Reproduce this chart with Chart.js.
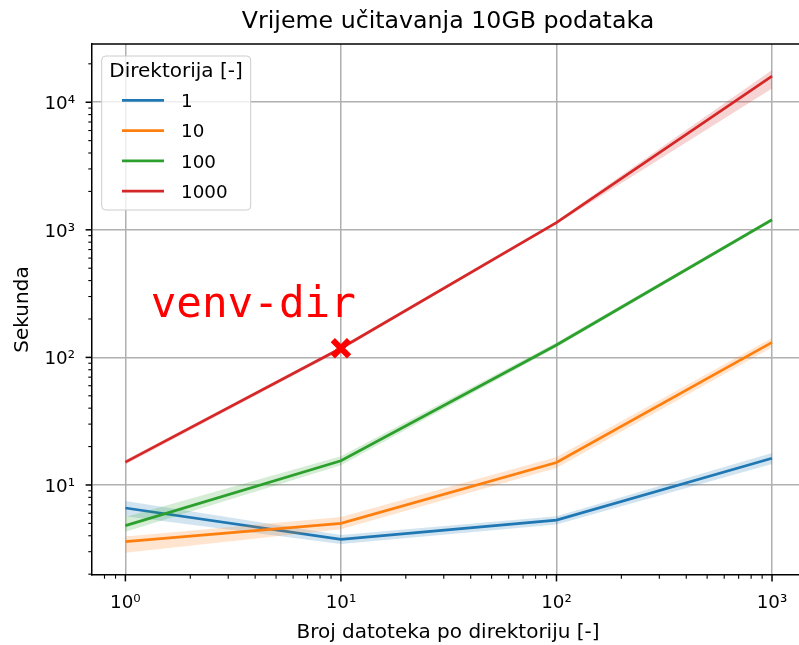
<!DOCTYPE html>
<html>
<head>
<meta charset="utf-8">
<script src="https://cdn.jsdelivr.net/npm/chart.js@4/dist/chart.umd.min.js"></script>
<style>
  html, body { margin: 0; padding: 0; background: #fff; }
  canvas { display: block; }
</style>
</head>
<body>
<canvas id="loadChart" width="799" height="645"></canvas>
<script>
// x: files per directory, one series per directory count
const fileCounts = [1, 10, 100, 1000];
const dirLabels = ['1', '10', '100', '1000'];

const dir1Mean = [6.6, 3.75, 5.3, 16.2];
const dir1Low  = [5.7, 3.45, 4.9, 14.6];
const dir1High = [7.5, 4.05, 5.7, 17.8];

const dir10Mean = [3.6, 5.0, 15.0, 131];
const dir10Low  = [2.95, 4.5, 13.6, 120];
const dir10High = [3.95, 5.6, 16.6, 142];

const dir100Mean = [4.8, 15.5, 125, 1200];
const dir100Low  = [4.3, 14.3, 120, 1160];
const dir100High = [5.6, 16.8, 131, 1240];

const dir1000Mean = [15.1, 118, 1140, 16000];
const dir1000Low  = [14.5, 114, 1110, 12800];
const dir1000High = [15.7, 122, 1180, 17900];

// highlighted point + its note
const markerX = [10];
const markerY = [118];
const noteText = 'venv-dir';
const noteX = 1.31;
const noteY = 208;

// axis limits (matplotlib-style log margins)
const xMin = 0.706, xMax = 1334;
const yMin = 1.97, yMax = 28600;

const chartTitle = 'Vrijeme učitavanja 10GB podataka';
const xTitle = 'Broj datoteka po direktoriju [-]';
const yTitle = 'Sekunda';
const legendTitle = 'Direktorija [-]';

const colors = ['#1f77b4', '#ff7f0e', '#2ca02c', '#d62728'];
const bands = ['rgba(31,119,180,0.2)', 'rgba(255,127,14,0.2)', 'rgba(44,160,44,0.2)', 'rgba(214,39,40,0.2)'];
const FONT = 'DejaVu Sans';

const series = [
  { mean: dir1Mean, low: dir1Low, high: dir1High },
  { mean: dir10Mean, low: dir10Low, high: dir10High },
  { mean: dir100Mean, low: dir100Low, high: dir100High },
  { mean: dir1000Mean, low: dir1000Low, high: dir1000High }
];

const toPoints = vals => fileCounts.map((x, i) => ({ x, y: vals[i] }));

const datasets = [];
series.forEach((s, i) => {
  const order = 10 - i * 2;
  datasets.push({ data: toPoints(s.low), borderWidth: 0, pointRadius: 0, fill: false, order: order + 1 });
  datasets.push({ data: toPoints(s.high), borderWidth: 0, pointRadius: 0, fill: '-1', backgroundColor: bands[i], order: order + 1 });
  datasets.push({ label: dirLabels[i], data: toPoints(s.mean), borderColor: colors[i], borderWidth: 2.7, pointRadius: 0, fill: false, order: order, legendLine: true });
});
datasets.push({
  data: markerX.map((x, i) => ({ x, y: markerY[i] })),
  showLine: false, pointStyle: 'crossRot', pointRadius: 11.5, borderWidth: 6,
  borderColor: '#ff0000', backgroundColor: '#ff0000', order: 0
});

// 1..9 x 10^n ticks inside the range
function logTicks(min, max) {
  const out = [];
  for (let e = Math.floor(Math.log10(min)); e <= Math.ceil(Math.log10(max)); e++) {
    for (let m = 1; m <= 9; m++) {
      const v = m * Math.pow(10, e);
      if (v >= min && v <= max) out.push({ value: v, major: m === 1 });
    }
  }
  return out;
}

const SUP = { '0': '⁰', '1': '¹', '2': '²', '3': '³', '4': '⁴', '5': '⁵', '-': '⁻' };
function powLabel(value, index, ticks) {
  if (!ticks[index].major) return '';
  const e = String(Math.round(Math.log10(value)));
  return '10' + e.split('').map(c => SUP[c]).join('');
}

const gridColor = ctx => (ctx.tick && ctx.tick.major ? '#b0b0b0' : 'rgba(0,0,0,0)');

// no extra label padding, keep the plot box where matplotlib had it
function noPad(scale) {
  scale.paddingLeft = 0;
  scale.paddingRight = 0;
  scale.paddingTop = 0;
  scale.paddingBottom = 0;
}

// title, axis titles, top spine, tick marks, legend, note
const decor = {
  id: 'decor',
  afterDraw(chart) {
    const { ctx, chartArea: a, scales: { x, y } } = chart;
    ctx.save();
    ctx.strokeStyle = '#000';
    ctx.lineWidth = 1.5;
    ctx.beginPath();
    ctx.moveTo(a.left - 0.75, a.top);
    ctx.lineTo(a.right, a.top);
    ctx.stroke();

    x.ticks.forEach(t => {
      const px = x.getPixelForValue(t.value);
      ctx.lineWidth = t.major ? 1.5 : 1.1;
      ctx.beginPath();
      ctx.moveTo(px, a.bottom);
      ctx.lineTo(px, a.bottom + (t.major ? 6.4 : 3.7));
      ctx.stroke();
    });
    y.ticks.forEach(t => {
      const py = y.getPixelForValue(t.value);
      ctx.lineWidth = t.major ? 1.5 : 1.1;
      ctx.beginPath();
      ctx.moveTo(a.left, py);
      ctx.lineTo(a.left - (t.major ? 6.4 : 3.7), py);
      ctx.stroke();
    });

    // axes centre (right spine sits just past the canvas edge)
    const cx = 448;
    ctx.fillStyle = '#000';
    ctx.textAlign = 'center';
    ctx.textBaseline = 'alphabetic';
    ctx.font = '23.7px "' + FONT + '"';
    ctx.fillText(chartTitle, cx, 28.3);
    ctx.font = '20px "' + FONT + '"';
    ctx.fillText(xTitle, cx, 638);
    ctx.save();
    ctx.translate(28.3, (a.top + a.bottom) / 2);
    ctx.rotate(-Math.PI / 2);
    ctx.fillText(yTitle, 0, 0);
    ctx.restore();

    // note next to the marker
    ctx.fillStyle = '#ff0000';
    ctx.textAlign = 'left';
    ctx.font = '42.6px "DejaVu Sans Mono"';
    ctx.fillText(noteText, x.getPixelForValue(noteX), y.getPixelForValue(noteY));

    // legend box
    const bx = 101.7, by = 56, bw = 149, bh = 154, r = 4;
    ctx.beginPath();
    ctx.roundRect(bx, by, bw, bh, r);
    ctx.fillStyle = 'rgba(255,255,255,0.8)';
    ctx.fill();
    ctx.strokeStyle = '#cccccc';
    ctx.lineWidth = 1;
    ctx.stroke();
    ctx.fillStyle = '#000';
    ctx.font = '20px "' + FONT + '"';
    ctx.fillText(legendTitle, 109.3, 77.3);
    ctx.font = '18.3px "' + FONT + '"';
    chart.data.datasets.filter(d => d.legendLine).forEach((d, i) => {
      const ly = 100.3 + i * 30.3;
      ctx.strokeStyle = d.borderColor;
      ctx.lineWidth = 2.7;
      ctx.beginPath();
      ctx.moveTo(122, ly);
      ctx.lineTo(164, ly);
      ctx.stroke();
      ctx.fillStyle = '#000';
      ctx.fillText(d.label, 181, ly + 6.7);
    });
    ctx.restore();
  }
};

new Chart(document.getElementById('loadChart'), {
  type: 'line',
  data: { datasets },
  options: {
    responsive: false,
    animation: false,
    layout: { autoPadding: false, padding: { top: 44, right: 0, bottom: 0, left: 0 } },
    plugins: { legend: { display: false }, title: { display: false }, tooltip: { enabled: false } },
    scales: {
      x: {
        type: 'logarithmic',
        min: xMin,
        max: xMax,
        afterBuildTicks: scale => { scale.ticks = logTicks(xMin, xMax); },
        afterFit: scale => { scale.height = 70; noPad(scale); },
        ticks: {
          callback: powLabel, autoSkip: false, maxRotation: 0, minRotation: 0,
          padding: 17, color: '#000', font: { family: FONT, size: 18.3 }
        },
        grid: { color: gridColor, lineWidth: 1.5, drawTicks: false },
        border: { display: true, color: '#000', width: 1.5 }
      },
      y: {
        type: 'logarithmic',
        min: yMin,
        max: yMax,
        afterBuildTicks: scale => { scale.ticks = logTicks(yMin, yMax); },
        afterFit: scale => { scale.width = 92; noPad(scale); },
        ticks: {
          callback: powLabel, autoSkip: false, padding: 17, labelOffset: 2,
          color: '#000', font: { family: FONT, size: 18.3 }
        },
        grid: { color: gridColor, lineWidth: 1.5, drawTicks: false },
        border: { display: true, color: '#000', width: 1.5 }
      }
    }
  },
  plugins: [decor]
});
</script>
</body>
</html>
